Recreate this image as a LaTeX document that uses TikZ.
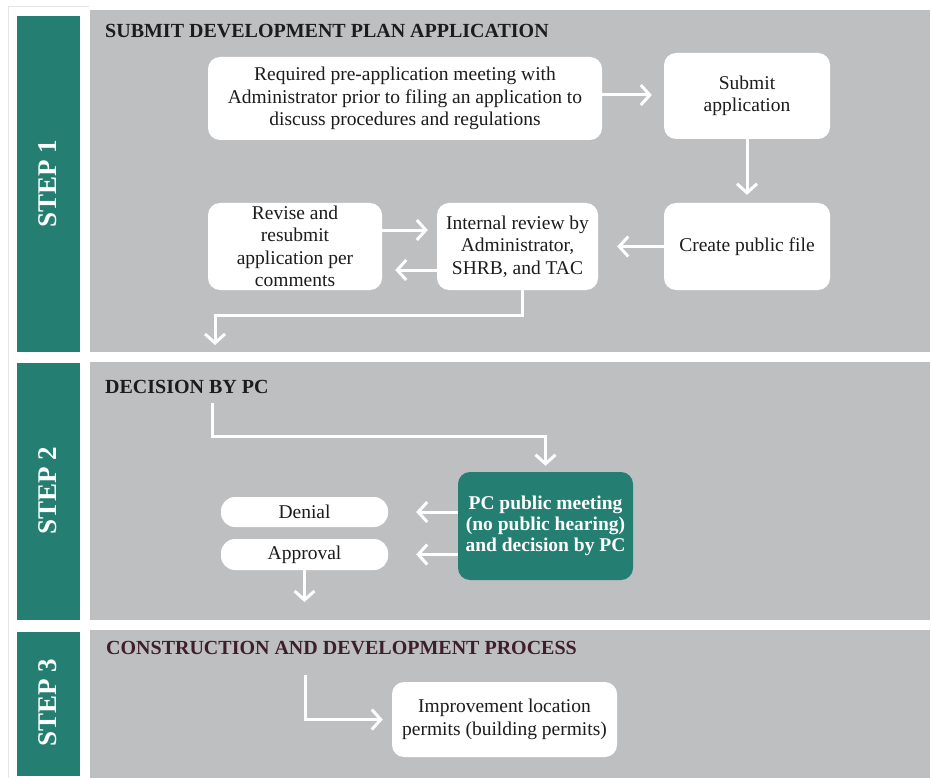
\documentclass[tikz,border=0pt]{standalone}
\usepackage{fontspec}
\setmainfont{Liberation Serif}
\usetikzlibrary{arrows.meta}
\definecolor{panel}{RGB}{190,191,193}
\definecolor{tealc}{RGB}{36,127,114}
\definecolor{txt}{RGB}{28,28,28}
\definecolor{headthree}{RGB}{62,30,42}
\tikzset{
  panelbox/.style={fill=panel, draw=none},
  stepbar/.style={fill=tealc, draw=none},
  steplabel/.style={text=white, font=\fontsize{27}{30}\selectfont\bfseries, rotate=90},
  heading/.style={anchor=base west, text=txt, font=\fontsize{20}{23}\selectfont\bfseries, inner sep=0pt},
  wbox/.style={fill=white, draw=none, rounded corners=12pt, align=center, text=txt,
    font=\fontsize{19.5}{22.5}\selectfont, inner sep=0pt},
  pill/.style={fill=white, draw=none, rounded corners=14pt, align=center, text=txt,
    font=\fontsize{19.5}{23}\selectfont, inner sep=0pt},
  tbox/.style={fill=tealc, draw=none, rounded corners=12pt, align=center, text=white,
    font=\fontsize{19.5}{21}\selectfont\bfseries, inner sep=0pt},
  arr/.style={draw=white, line width=3pt, -{Straight Barb[length=9pt,width=20pt]}}
}
\begin{document}
\begin{tikzpicture}[x=1pt,y=-1pt]
\useasboundingbox (0,0) rectangle (931,778);
\fill[white] (0,0) rectangle (931,778);
% left frame
\draw[gray!20, line width=0.8pt] (8,778) -- (8,6) -- (89,6);
% panels
\fill[panelbox] (90,10) rectangle (930,352);
\fill[panelbox] (90,362) rectangle (930,620);
\fill[panelbox] (90,630) rectangle (930,778);
% step bars
\fill[stepbar] (17,16) rectangle (80,352);
\fill[stepbar] (17,363) rectangle (80,620);
\fill[stepbar] (17,632) rectangle (80,776);
\node[steplabel] (st1) at (48,184) {STEP 1};
\node[steplabel] (st2) at (48,491) {STEP 2};
\node[steplabel] (st3) at (48,703) {STEP 3};
% headings
\node[heading] (h1) at (105,38) {SUBMIT DEVELOPMENT PLAN APPLICATION};
\node[heading] (h2) at (105,393) {DECISION BY PC};
\node[heading, text=headthree] (h3) at (106,654) {CONSTRUCTION AND DEVELOPMENT PROCESS};
% step 1 boxes
\node[wbox, minimum width=394pt, minimum height=83pt] (A) at (405,98.5)
  {Required pre-application meeting with\\Administrator prior to filing an application to\\discuss procedures and regulations};
\node[wbox, minimum width=166pt, minimum height=86pt] (B) at (747,96) {Submit\\application};
\node[wbox, minimum width=166pt, minimum height=87pt] (C) at (747,246.5) {Create public file};
\node[wbox, minimum width=161pt, minimum height=87pt] (D) at (517.5,246.5)
  {Internal review by\\Administrator,\\SHRB, and TAC};
\node[wbox, minimum width=174pt, minimum height=87pt] (E) at (295,246.5)
  {Revise and\\resubmit\\application per\\comments};
\draw[arr, shorten >=12pt] ([yshift=3.5pt]A.east) -- ([yshift=3.5pt]A.east -| B.west);
\draw[arr, shorten >=8pt] (B.south) -- (C.north);
\draw[arr, shorten >=19pt] (C.west) -- (D.east);
\draw[arr, shorten >=9pt] ([yshift=16.5pt]E.east) -- ([yshift=16.5pt]E.east -| D.west);
\draw[arr, shorten >=13pt] ([yshift=-23.5pt]D.west) -- ([yshift=-23.5pt]D.west -| E.east);
\coordinate (s1end) at (215,345);
\draw[arr] ([xshift=4.5pt]D.south) |- (s1end |- 0,315) -- (s1end);
% step 2
\node[tbox, minimum width=175pt, minimum height=108pt] (PC) at (545.5,526)
  {PC public meeting\\(no public hearing)\\and decision by PC};
\node[pill, minimum width=167pt, minimum height=30pt] (Den) at (304.5,512) {Denial};
\node[pill, minimum width=167pt, minimum height=31pt] (App) at (304.5,554.5) {Approval};
\coordinate (s2start) at (212,403);
\draw[arr, shorten >=6pt] (s2start) -- (212,436) -| (PC.north);
\draw[arr, shorten >=28pt] (PC.west |- Den.east) -- (Den.east);
\draw[arr, shorten >=28pt] (PC.west |- App.east) -- (App.east);
\coordinate (s2end) at (304.5,602);
\draw[arr] (App.south) -- (s2end);
% step 3
\node[wbox, minimum width=225pt, minimum height=75pt] (Imp) at (504.5,719.5)
  {Improvement location\\permits (building permits)};
\coordinate (s3start) at (305,675);
\draw[arr, shorten >=9pt] (s3start) |- (Imp.west);
\end{tikzpicture}
\end{document}
